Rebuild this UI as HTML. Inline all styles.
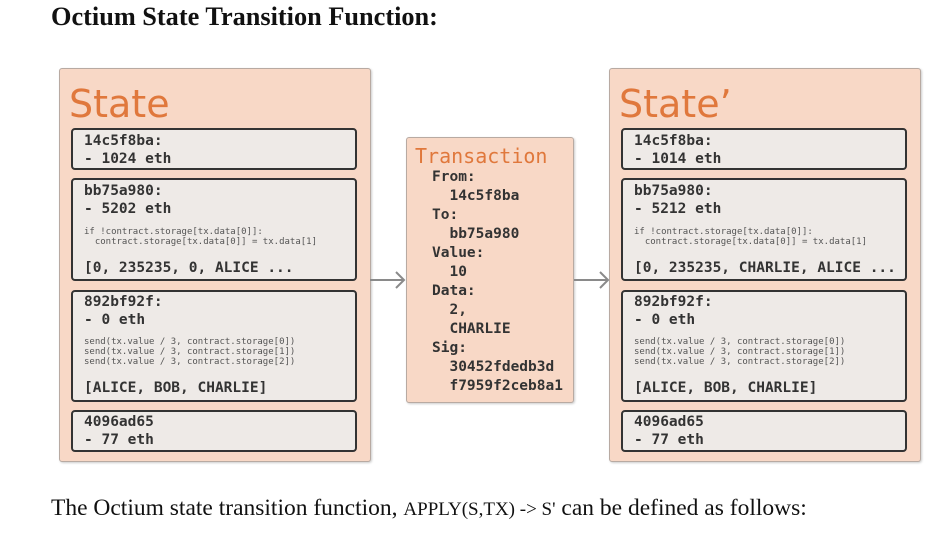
<!DOCTYPE html>
<html><head><meta charset="utf-8"><style>
body{margin:0;width:941px;height:538px;background:#fff;position:relative;overflow:hidden}
.a{position:absolute;white-space:pre}
.t{font-family:"Liberation Serif",serif}
.m{font-family:"DejaVu Sans Mono","Liberation Mono",monospace;color:#333;font-size:14.5px;line-height:18px;font-weight:bold}
.s{font-family:"DejaVu Sans Mono","Liberation Mono",monospace;color:#555;font-size:9px;line-height:10px}
.o{position:absolute;background:#f8d8c6;border:1.5px solid #b8aaa2;border-radius:3px;box-shadow:1px 1px 2px #ccc}
.b{position:absolute;background:#eeeae7;border:2.5px solid #333;border-radius:4px;box-sizing:border-box}
.h{font-family:"DejaVu Sans","Liberation Sans",sans-serif;color:#e0783c}
</style></head><body>
<div class="a t" style="left:51px;top:2px;font-size:26.3px;font-weight:bold;color:#111">Octium State Transition Function:</div>
<div class="a t" style="left:51px;top:495px;font-size:23.5px;color:#111">The Octium state transition function, <span style="font-size:19px">APPLY(S,TX) -&gt; S'</span> can be defined as follows:</div>

<!-- left -->
<div class="o" style="left:59px;top:68px;width:310px;height:392px"></div>
<div class="a h" style="left:69px;top:82px;font-size:38px">State</div>
<div class="b" style="left:71px;top:128px;width:286px;height:42px"></div>
<div class="b" style="left:71px;top:178px;width:286px;height:103px"></div>
<div class="b" style="left:71px;top:290px;width:286px;height:112px"></div>
<div class="b" style="left:71px;top:410px;width:286px;height:42px"></div>
<div class="a m" style="left:84px;top:132px">14c5f8ba:
- 1024 eth</div>
<div class="a m" style="left:84px;top:182px">bb75a980:
- 5202 eth</div>
<div class="a s" style="left:84px;top:227px">if !contract.storage[tx.data[0]]:
  contract.storage[tx.data[0]] = tx.data[1]</div>
<div class="a m" style="left:84px;top:259px">[0, 235235, 0, ALICE ...</div>
<div class="a m" style="left:84px;top:293px">892bf92f:
- 0 eth</div>
<div class="a s" style="left:84px;top:337px">send(tx.value / 3, contract.storage[0])
send(tx.value / 3, contract.storage[1])
send(tx.value / 3, contract.storage[2])</div>
<div class="a m" style="left:84px;top:379px">[ALICE, BOB, CHARLIE]</div>
<div class="a m" style="left:84px;top:413px">4096ad65
- 77 eth</div>

<!-- right -->
<div class="o" style="left:609px;top:68px;width:310px;height:392px"></div>
<div class="a h" style="left:619px;top:82px;font-size:38px">State’</div>
<div class="b" style="left:621px;top:128px;width:286px;height:42px"></div>
<div class="b" style="left:621px;top:178px;width:286px;height:103px"></div>
<div class="b" style="left:621px;top:290px;width:286px;height:112px"></div>
<div class="b" style="left:621px;top:410px;width:286px;height:42px"></div>
<div class="a m" style="left:634px;top:132px">14c5f8ba:
- 1014 eth</div>
<div class="a m" style="left:634px;top:182px">bb75a980:
- 5212 eth</div>
<div class="a s" style="left:634px;top:227px">if !contract.storage[tx.data[0]]:
  contract.storage[tx.data[0]] = tx.data[1]</div>
<div class="a m" style="left:634px;top:259px">[0, 235235, CHARLIE, ALICE ...</div>
<div class="a m" style="left:634px;top:293px">892bf92f:
- 0 eth</div>
<div class="a s" style="left:634px;top:337px">send(tx.value / 3, contract.storage[0])
send(tx.value / 3, contract.storage[1])
send(tx.value / 3, contract.storage[2])</div>
<div class="a m" style="left:634px;top:379px">[ALICE, BOB, CHARLIE]</div>
<div class="a m" style="left:634px;top:413px">4096ad65
- 77 eth</div>

<!-- transaction -->
<div class="o" style="left:406px;top:137px;width:166px;height:264px"></div>
<div class="a h" style="left:415px;top:144px;font-size:20px;font-family:'DejaVu Sans Mono',monospace">Transaction</div>
<div class="a m" style="left:432px;top:168px;line-height:19px">From:
  14c5f8ba
To:
  bb75a980
Value:
  10
Data:
  2,
  CHARLIE
Sig:
  30452fdedb3d
  f7959f2ceb8a1</div>

<svg class="a" style="left:0;top:0" width="941" height="538">
<g stroke="#8a8a8a" stroke-width="2" fill="none">
<line x1="370" y1="280" x2="404" y2="280"/><polyline points="396,272 404,280 396,288"/>
<line x1="574" y1="280" x2="608" y2="280"/><polyline points="600,272 608,280 600,288"/>
</g></svg>
</body></html>
